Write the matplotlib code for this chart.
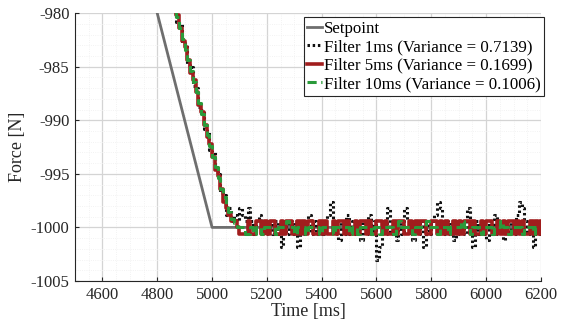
import numpy as np
import matplotlib
matplotlib.use("Agg")
import matplotlib.pyplot as plt
from matplotlib.ticker import MultipleLocator

plt.rcParams['font.family'] = ['Liberation Serif', 'DejaVu Serif']
plt.rcParams['axes.unicode_minus'] = False

# Setpoint
setpoint_t = [4500, 4800, 5000, 6200]
setpoint_f = [-950.0, -980.0, -1000.0, -1000.0]

# Filter samples (10 ms sampling, 4800..6200 ms)
sample_t = np.arange(4800, 6201, 10)

filter1_ramp = [-973.0, -974.8, -975.0, -976.8, -977.0, -978.8, -979.0, -980.8, -981.0, -982.8,
                -983.0, -984.8, -985.0, -986.8, -987.0, -988.8, -989.0, -990.8, -991.0, -992.8,
                -993.0, -994.8, -995.0, -996.8, -997.0, -998.8, -998.2, -999.4, -998.8, -999.4,
                -998.2]
filter1_steady = [
    -998.8, -999.4, -998.2, -999.4, -1000.6, -999.4, -998.8, -999.4, -1000.6, -999.4,
    -999.4, -1000.6, -999.4, -1000.6, -1001.8, -999.4, -1000.6, -999.4, -1000.6, -999.4,
    -1001.8, -999.4, -1000.6, -999.4, -998.8, -1000.6, -999.4, -1000.6, -999.4, -1000.6,
    -999.4, -998.8, -997.6, -999.4, -1000.6, -1001.2, -999.4, -1000.6, -998.8, -1000.6,
    -999.4, -1000.6, -999.4, -1001.2, -999.4, -1000.6, -998.8, -1000.6, -999.4, -1003.0,
    -1001.8, -999.4, -1000.6, -998.2, -1000.6, -999.4, -1001.2, -999.4, -1000.6, -998.2,
    -999.4, -1000.6, -1001.2, -999.4, -1000.6, -999.4, -1001.8, -999.4, -1000.6, -999.4,
    -998.8, -997.6, -998.2, -1000.6, -999.4, -1000.6, -999.4, -1001.2, -999.4, -1000.6,
    -999.4, -1000.6, -998.2, -999.4, -1001.8, -999.4, -1000.6, -999.4, -1000.6, -1001.2,
    -999.4, -1000.6, -998.8, -1000.6, -999.4, -1001.2, -999.4, -1000.6, -999.4, -1000.6,
    -998.8, -997.6, -998.2, -999.4, -1000.6, -999.4, -1001.8, -999.4, -1000.6, -999.4]

filter5_ramp = [-973.6, -974.2, -975.4, -976.6, -977.2, -978.4, -979.6, -980.2, -981.4, -982.6,
                -983.2, -984.4, -985.6, -986.2, -987.4, -988.6, -989.2, -990.4, -991.6, -992.2,
                -993.4, -994.6, -995.2, -996.4, -997.6, -998.2, -998.8, -999.4, -999.4, -1000.0,
                -1000.6]
filter5_steady = [
    -1000.6, -1000.6, -999.4, -1000.6, -1000.6, -999.4, -999.4, -1000.6, -999.4, -1000.6,
    -999.4, -999.4, -1000.6, -1000.6, -999.4, -1000.6, -999.4, -999.4, -1000.6, -1000.6,
    -999.4, -1000.6, -999.4, -1000.6, -999.4, -999.4, -1000.6, -1000.6, -999.4, -1000.6,
    -999.4, -1000.6, -1000.6, -999.4, -1000.6, -999.4, -999.4, -1000.6, -999.4, -1000.6,
    -1000.6, -999.4, -1000.6, -999.4, -999.4, -1000.6, -999.4, -1000.6, -1000.6, -999.4,
    -999.4, -1000.6, -999.4, -1000.6, -1000.6, -999.4, -1000.6, -999.4, -999.4, -1000.6,
    -1000.6, -999.4, -1000.6, -999.4, -1000.6, -999.4, -999.4, -1000.6, -1000.6, -999.4,
    -999.4, -1000.6, -999.4, -1000.6, -999.4, -1000.6, -1000.6, -999.4, -1000.6, -999.4,
    -1000.6, -999.4, -999.4, -1000.6, -999.4, -1000.6, -1000.6, -999.4, -1000.6, -999.4,
    -999.4, -1000.6, -1000.6, -999.4, -1000.6, -999.4, -1000.6, -999.4, -999.4, -1000.6,
    -999.4, -1000.6, -999.4, -1000.6, -1000.6, -999.4, -1000.6, -999.4, -1000.6, -999.4]

filter10_ramp = [-973.4, -974.4, -975.4, -976.4, -977.4, -978.4, -979.4, -980.4, -981.4, -982.4,
                 -983.4, -984.4, -985.4, -986.4, -987.4, -988.4, -989.4, -990.4, -991.4, -992.4,
                 -993.4, -994.4, -995.4, -996.4, -997.2, -998.0, -998.6, -999.2, -999.6, -1000.0,
                 -1000.0]
filter10_steady = [
    -1000.0, -1000.6, -1000.6, -1000.0, -1000.6, -1000.0, -1000.0, -1000.6, -1000.0, -1000.0,
    -1000.0, -1000.0, -1000.6, -1000.0, -1000.0, -1000.0, -999.4, -1000.0, -1000.0, -1000.6,
    -1000.0, -1000.0, -1000.0, -1000.6, -1000.0, -1000.0, -1000.0, -1000.0, -1000.6, -1000.0,
    -1000.0, -1000.0, -1000.0, -1000.6, -1000.0, -1000.0, -1000.0, -1000.0, -1000.0, -1000.6,
    -1000.0, -1000.0, -1000.6, -1000.0, -1000.0, -1000.0, -1000.0, -1000.6, -1000.0, -1000.0,
    -1000.6, -1000.0, -1000.0, -1000.0, -1000.0, -1000.6, -1000.0, -999.4, -1000.0, -1000.0,
    -1000.0, -1000.0, -1000.6, -1000.0, -1000.0, -1000.0, -1000.0, -999.4, -1000.0, -1000.0,
    -1000.0, -1000.6, -1000.0, -1000.0, -1000.0, -1000.6, -1000.0, -1000.0, -1000.0, -1000.0,
    -999.4, -1000.0, -1000.0, -1000.6, -1000.0, -1000.0, -1000.0, -1000.6, -1000.0, -1000.0,
    -1000.0, -1000.6, -1000.0, -1000.0, -999.4, -1000.0, -1000.0, -1000.6, -1000.0, -1000.0,
    -1000.0, -1000.0, -1000.6, -1000.0, -1000.0, -1000.0, -1000.6, -1000.0, -1000.0, -1000.0]

labels = ['Setpoint',
          'Filter 1ms (Variance = 0.7139)',
          'Filter 5ms (Variance = 0.1699)',
          'Filter 10ms (Variance = 0.1006)']

filter1 = filter1_ramp + filter1_steady
filter5 = filter5_ramp + filter5_steady
filter10 = filter10_ramp + filter10_steady

fig = plt.figure(figsize=(5.62, 3.29), dpi=100)
ax = fig.add_axes([0.1335, 0.146, 0.829, 0.814])

ax.plot(setpoint_t, setpoint_f, color='#6e6e6e', lw=2.0, label=labels[0], zorder=3)
ax.plot(sample_t, filter1, color='#111111', lw=2.2, ls=(0, (0.8, 0.9)), drawstyle='steps-post',
        label=labels[1], zorder=4)
ax.plot(sample_t, filter5, color='#a11d1d', lw=2.6, drawstyle='steps-post',
        label=labels[2], zorder=5)
ax.plot(sample_t, filter10, color='#2a9a3a', lw=2.2, ls=(0, (3, 1.5)), drawstyle='steps-post',
        label=labels[3], zorder=6)

ax.set_xlim(4500, 6200)
ax.set_ylim(-1005, -980)
ax.xaxis.set_major_locator(MultipleLocator(200))
ax.yaxis.set_major_locator(MultipleLocator(5))
ax.xaxis.set_minor_locator(MultipleLocator(50))
ax.yaxis.set_minor_locator(MultipleLocator(1))
ax.grid(which='major', color='#d4d4d4', lw=0.9)
ax.grid(which='minor', color='#efefef', lw=0.6, ls=':')
ax.set_axisbelow(True)
for s in ['top', 'right']:
    ax.spines[s].set_visible(False)
for s in ['left', 'bottom']:
    ax.spines[s].set_color('#262626')
    ax.spines[s].set_linewidth(0.8)
ax.tick_params(which='major', direction='in', length=3, labelsize=12, colors='#262626',
               labelcolor='#262626', pad=4)
ax.tick_params(which='minor', length=0)
ax.set_xlabel('Time [ms]', fontsize=13, labelpad=0, color='#262626')
ax.set_ylabel('Force [N]', fontsize=13, labelpad=3, color='#262626')

leg = ax.legend(loc='upper right', fontsize=12.2, frameon=True, fancybox=False,
                handlelength=0.9, handletextpad=0.1, borderpad=0.2, labelspacing=0.15,
                borderaxespad=0.0, bbox_to_anchor=(1.007, 0.985))
leg.get_frame().set_edgecolor('#262626')
leg.get_frame().set_linewidth(0.8)
leg.get_frame().set_alpha(1)

fig.savefig('out.png', dpi=100)
